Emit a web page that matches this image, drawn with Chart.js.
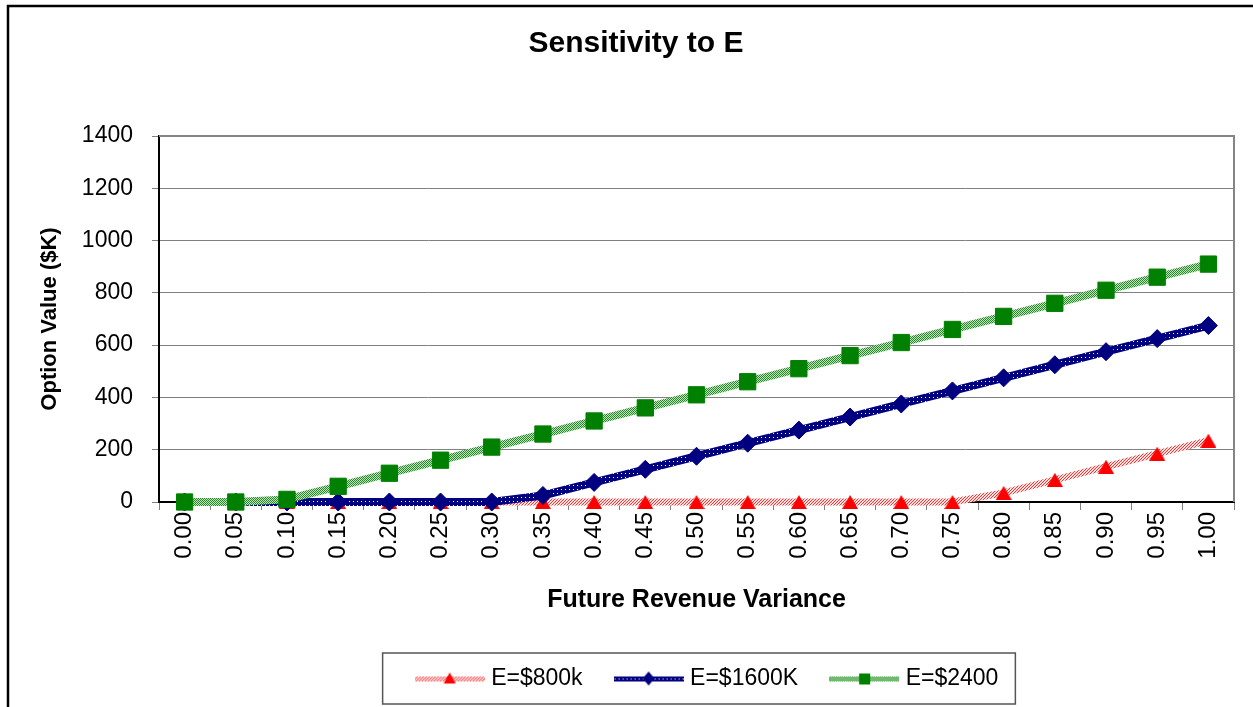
<!DOCTYPE html>
<html>
<head>
<meta charset="utf-8">
<script src="https://cdn.jsdelivr.net/npm/chart.js@4.4.1/dist/chart.umd.min.js"></script>
<style>
  html, body { margin: 0; padding: 0; background: #fff; }
</style>
</head>
<body>
<canvas id="myChart" width="1253" height="707"></canvas>
<script>
// data
const variance = ['0.00', '0.05', '0.10', '0.15', '0.20', '0.25', '0.30', '0.35', '0.40', '0.45', '0.50',
                  '0.55', '0.60', '0.65', '0.70', '0.75', '0.80', '0.85', '0.90', '0.95', '1.00'];
const e800 = [0, 0, 0, 0, 0, 0, 0, 0, 0, 0, 0, 0, 0, 0, 0, 0, 35, 85, 135, 185, 235];
const e1600 = [0, 0, 0, 0, 0, 0, 0, 25, 75, 125, 175, 225, 275, 325, 375, 425, 475, 525, 575, 625, 675];
const e2400 = [0, 0, 10, 60, 110, 160, 210, 260, 310, 360, 410, 460, 510, 560, 610, 660, 710, 760, 810, 860, 910];
const seriesNames = ['E=$800k', 'E=$1600K', 'E=$2400'];
const yMin = 0, yMax = 1400, yStep = 200;

const FONT = "'Liberation Sans', Arial, sans-serif";
const LEGEND_PAD = 36;

// small tiles used as line fills (checker / dotted look)
function tile(w, h, bg, fg, pts) {
    const c = document.createElement('canvas');
    c.width = w; c.height = h;
    const g = c.getContext('2d');
    g.fillStyle = bg;
    g.fillRect(0, 0, w, h);
    g.fillStyle = fg;
    pts.forEach(p => g.fillRect(p[0], p[1], 1, 1));
    return c;
}
const tiles = [
    tile(3, 3, '#ffe2e2', '#ff3030', [[0, 0], [2, 1], [1, 2]]),
    tile(4, 4, '#000080', '#ffffff', [[1, 1]]),
    tile(2, 2, '#c4e4c4', '#1e8c1e', [[0, 0], [1, 1]])
];
const markColors = ['#ff0000', '#000080', '#008000'];

// triangle marker centred on its bounding box, like the original
function triangleMark() {
    const c = document.createElement('canvas');
    c.width = 16; c.height = 14;
    const g = c.getContext('2d');
    g.fillStyle = markColors[0];
    g.beginPath();
    g.moveTo(8, 0); g.lineTo(16, 14); g.lineTo(0, 14);
    g.closePath();
    g.fill();
    return c;
}

// legend icons: short patterned line with the marker in the middle
function legendIcon(i) {
    const c = document.createElement('canvas');
    c.width = 70; c.height = 18;
    const g = c.getContext('2d');
    g.fillStyle = g.createPattern(tiles[i], 'repeat');
    g.fillRect(0, 7, 70, 5);
    g.fillStyle = markColors[i];
    g.beginPath();
    if (i === 0) {
        g.moveTo(35, 3); g.lineTo(41, 14); g.lineTo(29, 14);
    } else if (i === 1) {
        g.moveTo(35, 2); g.lineTo(41, 9); g.lineTo(35, 16); g.lineTo(29, 9);
    } else {
        g.rect(30, 4, 11, 11);
    }
    g.closePath();
    g.fill();
    return c;
}
const legendIcons = [0, 1, 2].map(legendIcon);

const chromePlugin = {
    id: 'chrome',
    afterLayout(chart) {
        // title centred on the outer frame, legend row sits right of centre
        chart.titleBlock.left += 19;
        chart.titleBlock.right += 19;
        chart.legend.left += 92;
        chart.legend.right += 92;
    },
    beforeDraw(chart) {
        const c = chart.ctx;
        c.save();
        c.fillStyle = '#fff';
        c.fillRect(0, 0, chart.width, chart.height);
        c.strokeStyle = '#000';
        c.lineWidth = 2.5;
        c.beginPath();
        c.moveTo(8, chart.height + 2);
        c.lineTo(8, 6);
        c.lineTo(chart.width + 2, 6);
        c.stroke();
        c.restore();
    },
    beforeDatasetsDraw(chart) {
        const a = chart.chartArea, c = chart.ctx;
        c.save();
        c.strokeStyle = '#858585';
        c.lineWidth = 2;
        c.beginPath();
        c.moveTo(a.left, a.top);
        c.lineTo(a.right, a.top);
        c.lineTo(a.right, a.bottom);
        c.stroke();
        c.restore();
    },
    afterDraw(chart) {
        const lg = chart.legend, c = chart.ctx;
        const lw = lg.lineWidths[0];
        const x0 = (lg.left + LEGEND_PAD + lg.right - lw) / 2;
        const cy = lg.top + LEGEND_PAD + 11.5;
        c.save();
        c.strokeStyle = '#555';
        c.lineWidth = 1.5;
        c.strokeRect(x0 - 37, cy - 25.5, lw - LEGEND_PAD + 54, 51);
        c.restore();
    }
};

const ctx = document.getElementById('myChart').getContext('2d');
const seriesData = [e800, e1600, e2400];
const styles = [triangleMark(), 'rectRot', 'rect'];
const radii = [9, 9, 11.5];
const widths = [7, 8, 8];

const chart = new Chart(ctx, {
    type: 'line',
    data: {
        labels: variance,
        datasets: seriesData.map((d, i) => ({
            label: seriesNames[i],
            data: d,
            order: 3 - i,
            clip: false,
            borderColor: ctx.createPattern(tiles[i], 'repeat'),
            borderWidth: widths[i],
            tension: 0,
            fill: false,
            pointStyle: styles[i],
            pointRadius: radii[i],
            pointBackgroundColor: markColors[i],
            pointBorderColor: markColors[i],
            pointBorderWidth: 1
        }))
    },
    options: {
        responsive: false,
        animation: false,
        devicePixelRatio: 1,
        layout: { padding: { left: 0, right: 19, top: 0, bottom: 7 } },
        plugins: {
            title: {
                display: true,
                text: 'Sensitivity to E',
                color: '#000',
                font: { family: FONT, size: 30, weight: 'bold' },
                padding: { top: 26, bottom: 74 }
            },
            legend: {
                position: 'bottom',
                labels: {
                    usePointStyle: true,
                    pointStyleWidth: 60,
                    padding: LEGEND_PAD,
                    color: '#000',
                    font: { family: FONT, size: 23 },
                    generateLabels(ch) {
                        return Chart.defaults.plugins.legend.labels.generateLabels(ch)
                            .map(l => Object.assign(l, { pointStyle: legendIcons[l.datasetIndex] }));
                    },
                    sort: (a, b) => a.datasetIndex - b.datasetIndex
                }
            },
            tooltip: { enabled: false }
        },
        scales: {
            x: {
                offset: true,
                grid: { display: true, drawOnChartArea: false, drawTicks: true, tickLength: 8, color: '#808080', offset: true },
                border: { display: true, color: '#000', width: 2 },
                ticks: { color: '#000', font: { family: FONT, size: 24 }, minRotation: 90, maxRotation: 90, autoSkip: false, padding: 2 },
                title: {
                    display: true,
                    text: 'Future Revenue Variance',
                    color: '#000',
                    font: { family: FONT, size: 25, weight: 'bold' },
                    padding: { top: 0, bottom: 16 }
                },
                afterFit(s) { s.height = 129; }
            },
            y: {
                min: yMin,
                max: yMax,
                ticks: { stepSize: yStep, color: '#000', font: { family: FONT, size: 23 }, padding: 19,
                         callback: v => String(v) },
                grid: { color: '#808080', tickLength: 7, drawTicks: true },
                border: { color: '#000', width: 2 },
                title: {
                    display: true,
                    text: 'Option Value ($K)',
                    color: '#000',
                    font: { family: FONT, size: 22, weight: 'bold' },
                    padding: { top: 37, bottom: 0 }
                },
                afterFit(s) { s.width = 159; }
            }
        }
    },
    plugins: [chromePlugin]
});
</script>
</body>
</html>
